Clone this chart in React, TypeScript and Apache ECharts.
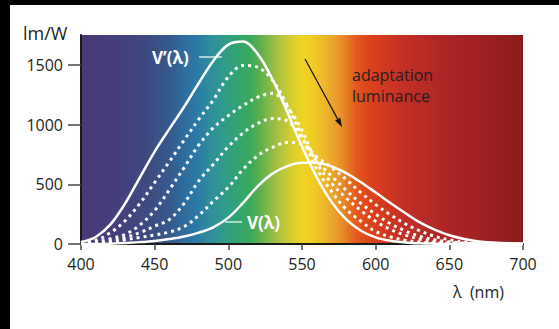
import React, { useEffect, useRef } from "react";
import * as echarts from "echarts";

// wavelengths in nm
const wavelengths = [400, 410, 420, 430, 440, 450, 460, 470, 480, 490, 500, 510, 520, 530, 540, 550, 560, 570, 580, 590, 600, 610, 620, 630, 640, 650, 660, 670, 680, 690, 700];

// photopic V(λ) in lm/W
const photopicV = [0.3, 0.8, 2.7, 7.9, 15.7, 26, 41, 62, 95, 142, 221, 344, 485, 589, 652, 680, 680, 650, 594, 517, 431, 344, 260, 181, 120, 73, 42, 22, 12, 6, 3];
// scotopic V'(λ) in lm/W
const scotopicV = [16, 59, 164, 340, 558, 774, 964, 1149, 1348, 1537, 1669, 1695, 1590, 1379, 1105, 818, 559, 353, 206, 111, 56, 27, 13, 6, 3, 1, 1, 0, 0, 0, 0];
// mesopic curves (dotted), decreasing adaptation luminance
const mesopic1 = [8, 30, 95, 195, 340, 515, 690, 870, 1045, 1210, 1400, 1495, 1480, 1370, 1160, 900, 630, 440, 290, 190, 105, 60, 32, 16, 8, 4, 2, 1, 0, 0, 0];
const mesopic2 = [4, 15, 45, 80, 160, 280, 455, 640, 830, 975, 1075, 1160, 1230, 1262, 1150, 950, 680, 510, 385, 280, 190, 122, 75, 41, 21, 10, 5, 2, 1, 0, 0];
const mesopic3 = [3, 10, 25, 55, 95, 150, 205, 340, 530, 670, 815, 930, 1010, 1050, 1030, 890, 700, 570, 450, 340, 250, 170, 110, 65, 35, 18, 8, 3, 1, 0, 0];
const mesopic4 = [2, 6, 15, 35, 55, 75, 100, 145, 240, 360, 475, 625, 740, 810, 850, 835, 730, 640, 540, 430, 330, 245, 170, 110, 65, 35, 17, 7, 3, 1, 0];

const xTicks = [400, 450, 500, 550, 600, 650, 700];
const yTicks = [0, 500, 1000, 1500];

const spectrumStops: [number, string][] = [
  [400, "#4b3878"], [425, "#443f7c"], [445, "#3d4a82"], [460, "#35598c"], [470, "#2e6d9e"],
  [478, "#2c79a7"], [488, "#2e8f9b"], [498, "#2f9c88"], [508, "#33a56c"], [515, "#3aa95a"],
  [522, "#60b04c"], [532, "#a0bf42"], [542, "#d2cc33"], [550, "#eed423"], [558, "#efcb24"],
  [566, "#ecb52a"], [574, "#e99a2b"], [580, "#e67f25"], [587, "#e2581d"], [595, "#dd451c"],
  [605, "#d33a20"], [620, "#c22e26"], [640, "#b12826"], [665, "#a32322"], [700, "#8b1c1b"],
];

const FONT = "'Open Sans', 'Noto Sans', sans-serif";
const TEXT = "#231f20";

export default function App() {
  const ref = useRef<HTMLDivElement>(null);
  useEffect(() => {
    const chart = echarts.init(ref.current!, null, { renderer: "svg" });
    const pairs = (vals: number[]) => wavelengths.map((w, i) => [w, vals[i]]);
    const gradient = new echarts.graphic.LinearGradient(
      0, 0, 1, 0,
      spectrumStops.map(([l, c]) => ({ offset: (l - 400) / 300, color: c }))
    );
    const solid = (name: string, vals: number[]) => ({
      type: "line", name, data: pairs(vals), smooth: 0.35, symbol: "none", silent: true,
      lineStyle: { color: "#ffffff", width: 2.5 }, z: 3,
    });
    const dotted = (name: string, vals: number[]) => ({
      type: "line", name, data: pairs(vals), smooth: 0.35, symbol: "none", silent: true,
      lineStyle: { color: "#ffffff", width: 3, type: [3, 4], cap: "butt" }, z: 2,
    });
    const ax = 295, ay = 54, tx = 332, ty = 122;
    const len = Math.hypot(tx - ax, ty - ay);
    const ux = (tx - ax) / len, uy = (ty - ay) / len;
    const bx = tx - 9 * ux, by = ty - 9 * uy;
    chart.setOption({
      animation: false,
      grid: { left: 71, right: 36, top: 30, bottom: 85, show: true, backgroundColor: gradient, borderWidth: 0 },
      xAxis: {
        type: "value", min: 400, max: 700, interval: 50,
        axisLine: { show: true, lineStyle: { color: "#1a1a1a", width: 2 } },
        axisTick: { show: true, length: 6, lineStyle: { color: "#444", width: 1.5 }, customValues: xTicks },
        axisLabel: { color: TEXT, fontSize: 16, fontFamily: FONT, margin: 12, customValues: xTicks, formatter: (v: number) => String(v) },
        splitLine: { show: false },
      },
      yAxis: {
        type: "value", min: 0, max: 1750, interval: 250,
        axisLine: { show: true, lineStyle: { color: "#1a1a1a", width: 2 } },
        axisTick: { show: true, length: 13, lineStyle: { color: "#444", width: 1.5 }, customValues: yTicks },
        axisLabel: { color: TEXT, fontSize: 16, fontFamily: FONT, margin: 18, customValues: yTicks, formatter: (v: number) => String(v) },
        splitLine: { show: false },
      },
      series: [
        dotted("mesopic 1", mesopic1),
        dotted("mesopic 2", mesopic2),
        dotted("mesopic 3", mesopic3),
        dotted("mesopic 4", mesopic4),
        solid("V'(λ)", scotopicV),
        solid("V(λ)", photopicV),
      ],
      graphic: [
        { type: "text", x: 13, y: 28, z: 100, style: { text: "lm/W", fill: TEXT, fontSize: 18, fontFamily: FONT, verticalAlign: "middle" } },
        { type: "text", x: 443, y: 287, z: 100, style: { text: "λ  (nm)", fill: TEXT, fontSize: 16, fontFamily: FONT, verticalAlign: "middle" } },
        { type: "text", x: 142, y: 52, z: 100, style: { text: "V’(λ)", fill: "#ffffff", fontSize: 17, fontWeight: "bold", fontFamily: FONT, verticalAlign: "middle" } },
        { type: "line", z: 100, shape: { x1: 189, y1: 52, x2: 212, y2: 52 }, style: { stroke: "rgba(255,255,255,0.8)", lineWidth: 1.5 } },
        { type: "text", x: 237, y: 217, z: 100, style: { text: "V(λ)", fill: "#ffffff", fontSize: 17, fontWeight: "bold", fontFamily: FONT, verticalAlign: "middle" } },
        { type: "line", z: 100, shape: { x1: 215, y1: 217, x2: 232, y2: 217 }, style: { stroke: "rgba(255,255,255,0.8)", lineWidth: 1.5 } },
        { type: "text", x: 342, y: 69.5, z: 100, style: { text: "adaptation", fill: TEXT, fontSize: 16, fontFamily: FONT, verticalAlign: "middle" } },
        { type: "text", x: 342, y: 90.5, z: 100, style: { text: "luminance", fill: TEXT, fontSize: 16, fontFamily: FONT, verticalAlign: "middle" } },
        { type: "line", z: 100, shape: { x1: ax, y1: ay, x2: bx, y2: by }, style: { stroke: "#111", lineWidth: 1.2 } },
        {
          type: "polygon", z: 100,
          shape: { points: [[tx, ty], [bx - 3 * uy, by + 3 * ux], [bx + 3 * uy, by - 3 * ux]] },
          style: { fill: "#111" },
        },
      ],
    });
    return () => chart.dispose();
  }, []);
  return (
    <div style={{ position: "fixed", left: 0, top: 0, width: 559, height: 329, background: "#000" }}>
      <div ref={ref} style={{ position: "absolute", left: 10, top: 5, width: 549, height: 324, background: "#fff" }} />
    </div>
  );
}
